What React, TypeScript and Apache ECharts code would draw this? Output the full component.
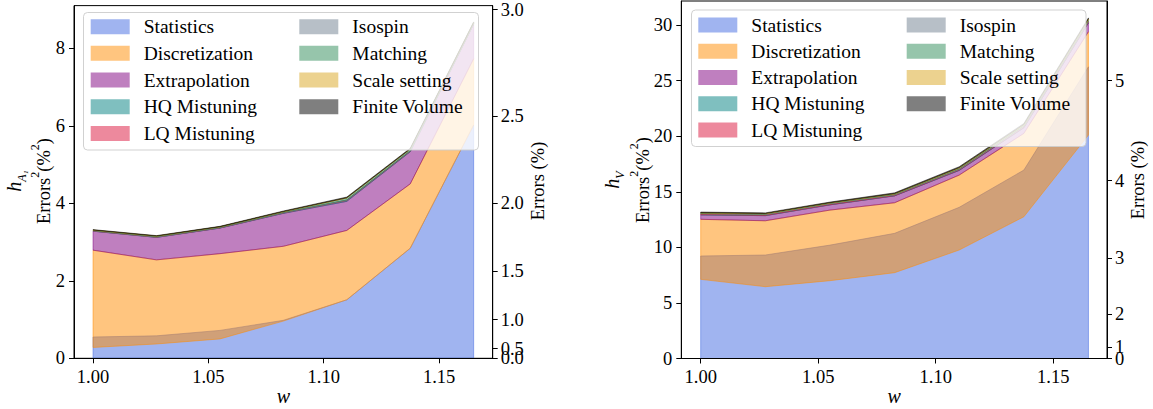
import React, { useEffect, useRef } from "react";
import * as echarts from "echarts";

// ---------------- data (errors squared, in %^2) ----------------
const W_POINTS = [1.0, 1.0275, 1.055, 1.0825, 1.11, 1.1375, 1.165];
const X_TICKS = [1.0, 1.05, 1.1, 1.15];

const LAYER_NAMES = [
  "Statistics",
  "Discretization",
  "Extrapolation",
  "HQ Mistuning",
  "LQ Mistuning",
  "Isospin",
  "Matching",
  "Scale setting",
  "Finite Volume",
];
const LAYER_COLORS = [
  "rgba(65,105,225,0.5)",
  "rgba(255,140,0,0.5)",
  "rgba(128,0,128,0.5)",
  "rgba(0,128,128,0.5)",
  "rgba(220,20,60,0.5)",
  "rgba(112,128,144,0.5)",
  "rgba(46,139,87,0.5)",
  "rgba(218,165,32,0.5)",
  "rgba(0,0,0,0.5)",
];

// h_A1 panel
const hA1StatisticsTop = [0.55, 0.58, 0.72, 0.98, 1.51, 2.84, 6.02];
const hA1DiscretizationLow = [0.28, 0.37, 0.5, 0.96, 1.51, 2.84, 6.02];
const hA1DiscretizationTop = [2.79, 2.54, 2.7, 2.89, 3.3, 4.5, 7.73];
const hA1Extrapolation = [0.49, 0.58, 0.66, 0.85, 0.75, 0.83, 0.89];
const hA1HQMistuning = [0.005, 0.005, 0.005, 0.01, 0.02, 0.01, 0.01];
const hA1LQMistuning = [0.005, 0.005, 0.005, 0.005, 0.01, 0.01, 0.005];
const hA1Isospin = [0.005, 0.005, 0.005, 0.005, 0.005, 0.005, 0.005];
const hA1Matching = [0.01, 0.015, 0.015, 0.02, 0.05, 0.04, 0.02];
const hA1ScaleSetting = [0.005, 0.005, 0.005, 0.005, 0.005, 0.005, 0.005];
const hA1FiniteVolume = [0.01, 0.01, 0.01, 0.015, 0.02, 0.02, 0.015];
const hA1LeftTicks = [0, 2, 4, 6, 8];
const hA1RightTicks = [0, 0.5, 1.0, 1.5, 2.0, 2.5, 3.0];

// h_V panel
const hVStatisticsTop = [9.22, 9.31, 10.2, 11.26, 13.6, 16.95, 26.24];
const hVDiscretizationLow = [7.12, 6.46, 7.0, 7.72, 9.76, 12.75, 20.1];
const hVDiscretizationTop = [12.52, 12.39, 13.35, 14.01, 16.5, 20.25, 29.4];
const hVExtrapolation = [0.4, 0.46, 0.47, 0.62, 0.42, 0.5, 0.8];
const hVHQMistuning = [0.02, 0.02, 0.02, 0.02, 0.03, 0.03, 0.03];
const hVLQMistuning = [0.08, 0.08, 0.08, 0.07, 0.08, 0.1, 0.1];
const hVIsospin = [0.02, 0.02, 0.02, 0.02, 0.02, 0.03, 0.03];
const hVMatching = [0.04, 0.04, 0.04, 0.05, 0.07, 0.08, 0.1];
const hVScaleSetting = [0.03, 0.03, 0.03, 0.04, 0.05, 0.05, 0.08];
const hVFiniteVolume = [0.06, 0.06, 0.06, 0.07, 0.08, 0.1, 0.1];
const hVLeftTicks = [0, 5, 10, 15, 20, 25, 30];
const hVRightTicks = [0, 1, 2, 3, 4, 5];

const FONT = "'Liberation Serif', 'Times New Roman', serif";

type Panel = {
  grid: { left: number; top: number; width: number; height: number };
  xMin: number;
  xMax: number;
  yMax: number;
  leftTicks: number[];
  rightTicks: number[];
  rightDecimals: number;
  statTop: number[];
  discLow: number[];
  discTop: number[];
  rest: number[][];
  legendCols: number[];
  legendTop: number;
  legendGap: number;
  box: { x: number; y: number; width: number; height: number };
  sub: string;
  nameX: number[];
  rightNameX: number;
  nameY: number;
};

const PANELS: Panel[] = [
  {
    grid: { left: 74, top: 3, width: 418.7, height: 355.3 },
    xMin: 0.99175,
    xMax: 1.17325,
    yMax: 9.1,
    leftTicks: hA1LeftTicks,
    rightTicks: hA1RightTicks,
    rightDecimals: 1,
    statTop: hA1StatisticsTop,
    discLow: hA1DiscretizationLow,
    discTop: hA1DiscretizationTop,
    rest: [hA1Extrapolation, hA1HQMistuning, hA1LQMistuning, hA1Isospin, hA1Matching, hA1ScaleSetting, hA1FiniteVolume],
    legendCols: [90.7, 299.3],
    legendTop: 16.7,
    legendGap: 6.67,
    box: { x: 83.5, y: 12.5, width: 395, height: 137.5 },
    sub: "A₁",
    nameX: [16, 41],
    rightNameX: 538,
    nameY: 181,
  },
  {
    grid: { left: 681.3, top: 1, width: 425.7, height: 357.5 },
    xMin: 0.99175,
    xMax: 1.17289,
    yMax: 32.16,
    leftTicks: hVLeftTicks,
    rightTicks: hVRightTicks,
    rightDecimals: 0,
    statTop: hVStatisticsTop,
    discLow: hVDiscretizationLow,
    discTop: hVDiscretizationTop,
    rest: [hVExtrapolation, hVHQMistuning, hVLQMistuning, hVIsospin, hVMatching, hVScaleSetting, hVFiniteVolume],
    legendCols: [698.3, 906.7],
    legendTop: 15,
    legendGap: 6.25,
    box: { x: 691.5, y: 10, width: 394.5, height: 136.5 },
    sub: "V",
    nameX: [614, 640],
    rightNameX: 1138,
    nameY: 180,
  },
];

// one filled band (lower..upper) per layer, drawn as a single polygon through the axes' scales
function bandRenderItem(params: any, api: any) {
  if (params.dataIndexInside !== 0) return null;
  const n = params.dataInsideLength;
  const top: number[][] = [];
  const bottom: number[][] = [];
  for (let i = 0; i < n; i++) {
    const w = api.value(0, i);
    top.push(api.coord([w, api.value(2, i)]));
    bottom.push(api.coord([w, api.value(1, i)]));
  }
  const color = api.visual("color");
  return {
    type: "polygon",
    shape: { points: top.concat(bottom.reverse()) },
    style: { fill: color, stroke: color, lineWidth: 1 },
    silent: true,
  };
}

function buildOption() {
  const grid: any[] = [];
  const xAxis: any[] = [];
  const yAxis: any[] = [];
  const series: any[] = [];
  const legend: any[] = [];
  const graphic: any[] = [];

  const axisCommon = {
    axisLine: { show: true, onZero: false, lineStyle: { color: "#000", width: 1 } },
    axisTick: { show: true, length: 5, lineStyle: { color: "#000", width: 1 } },
    splitLine: { show: false },
    z: 5,
  };
  const labelCommon = {
    color: "#000",
    fontFamily: FONT,
    fontSize: 18.5,
    showMinLabel: true,
    showMaxLabel: true,
    hideOverlap: false,
  };

  PANELS.forEach((p, pi) => {
    grid.push({ ...p.grid, show: true, borderColor: "#000", borderWidth: 1, backgroundColor: "transparent" });
    xAxis.push({
      type: "value",
      gridIndex: pi,
      min: p.xMin,
      max: p.xMax,
      ...axisCommon,
      axisTick: { ...axisCommon.axisTick, customValues: X_TICKS },
      axisLabel: { ...labelCommon, margin: 9, customValues: X_TICKS, formatter: (v: number) => v.toFixed(2) },
    });
    yAxis.push({
      type: "value",
      gridIndex: pi,
      position: "left",
      min: 0,
      max: p.yMax,
      ...axisCommon,
      axisTick: { ...axisCommon.axisTick, customValues: p.leftTicks },
      axisLabel: { ...labelCommon, margin: 9, customValues: p.leftTicks, formatter: (v: number) => String(Math.round(v)) },
    });
    const rightPos = p.rightTicks.map((t) => t * t);
    const fmt = (v: number) => Math.sqrt(v).toFixed(p.rightDecimals);
    // right axis: ticks at squared positions; labels for all but the first
    yAxis.push({
      type: "value",
      gridIndex: pi,
      position: "right",
      min: 0,
      max: p.yMax,
      ...axisCommon,
      axisTick: { ...axisCommon.axisTick, customValues: rightPos },
      axisLabel: { ...labelCommon, margin: 8, customValues: rightPos.slice(1), formatter: fmt },
    });
    // right axis: the first label alone (it overlaps the next one, as in the original)
    yAxis.push({
      type: "value",
      gridIndex: pi,
      position: "right",
      min: 0,
      max: p.yMax,
      axisLine: { show: false },
      axisTick: { show: false },
      splitLine: { show: false },
      axisLabel: { ...labelCommon, margin: 8, customValues: rightPos.slice(0, 1), formatter: fmt },
      z: 5,
    });

    // layers: lower / upper boundaries
    const layers: { lower: number[]; upper: number[] }[] = [];
    layers.push({ lower: W_POINTS.map(() => 0), upper: p.statTop });
    layers.push({ lower: p.discLow, upper: p.discTop });
    let cum = p.discTop.slice();
    p.rest.forEach((vals) => {
      const upper = cum.map((c, i) => c + vals[i]);
      layers.push({ lower: cum, upper });
      cum = upper;
    });

    layers.forEach((l, k) => {
      const color = LAYER_COLORS[k];
      series.push({
        type: "custom",
        name: LAYER_NAMES[k],
        xAxisIndex: pi,
        yAxisIndex: pi * 3,
        renderItem: bandRenderItem,
        data: W_POINTS.map((w, i) => [w, l.lower[i], l.upper[i]]),
        encode: { x: 0, y: [1, 2] },
        itemStyle: { color },
        silent: true,
        clip: false,
        z: 2,
      });
    });

    // legend (two columns)
    const cols = [LAYER_NAMES.slice(0, 5), LAYER_NAMES.slice(5)];
    cols.forEach((names, ci) => {
      legend.push({
        orient: "vertical",
        left: p.legendCols[ci],
        top: p.legendTop,
        padding: 0,
        itemWidth: 39,
        itemHeight: 15,
        itemGap: p.legendGap,
        icon: "rect",
        selectedMode: false,
        data: names,
        z: 6,
        itemStyle: { borderWidth: 0 },
        textStyle: { color: "#000", fontFamily: FONT, fontSize: 19.5, lineHeight: 20, padding: [0, 0, 0, 9] },
      });
    });

    graphic.push({
      type: "rect",
      z: 4,
      shape: { ...p.box, r: 4 },
      style: { fill: "rgba(255,255,255,0.8)", stroke: "rgba(204,204,204,0.9)", lineWidth: 1 },
      silent: true,
    });

    // y axis names
    graphic.push({
      type: "text",
      x: p.nameX[0],
      y: p.nameY,
      rotation: Math.PI / 2,
      z: 6,
      style: {
        text: `{i|h}{s|${p.sub}}`,
        align: "center",
        verticalAlign: "middle",
        textAlign: "center",
        textVerticalAlign: "middle",
        fill: "#000",
        rich: {
          i: { fontFamily: FONT, fontSize: 20, fontStyle: "italic", lineHeight: 24, verticalAlign: "top", fill: "#000" },
          s: { fontFamily: FONT, fontSize: 12, fontStyle: "italic", lineHeight: 9, verticalAlign: "bottom", fill: "#000" },
        },
      },
    });
    graphic.push({
      type: "text",
      x: p.nameX[1],
      y: p.nameY,
      rotation: Math.PI / 2,
      z: 6,
      style: {
        text: "{n|Errors}{p|2}{n|(%}{p|2}{n|)}",
        align: "center",
        verticalAlign: "middle",
        textAlign: "center",
        textVerticalAlign: "middle",
        fill: "#000",
        rich: {
          n: { fontFamily: FONT, fontSize: 18.5, lineHeight: 24, verticalAlign: "bottom", fill: "#000" },
          p: { fontFamily: FONT, fontSize: 12, lineHeight: 12, verticalAlign: "top", fill: "#000" },
        },
      },
    });
    graphic.push({
      type: "text",
      x: p.rightNameX,
      y: p.nameY,
      rotation: Math.PI / 2,
      z: 6,
      style: {
        text: "Errors (%)",
        font: `18.5px ${FONT}`,
        align: "center",
        verticalAlign: "middle",
        textAlign: "center",
        textVerticalAlign: "middle",
        fill: "#000",
      },
    });
    graphic.push({
      type: "text",
      x: p.grid.left + p.grid.width / 2,
      y: 396,
      z: 6,
      style: {
        text: "w",
        font: `italic 20px ${FONT}`,
        align: "center",
        verticalAlign: "middle",
        textAlign: "center",
        textVerticalAlign: "middle",
        fill: "#000",
      },
    });
  });

  return { animation: false, backgroundColor: "#fff", grid, xAxis, yAxis, series, legend, graphic };
}

export default function App() {
  const ref = useRef<HTMLDivElement>(null);
  useEffect(() => {
    if (!ref.current) return;
    const chart = echarts.init(ref.current, undefined, { renderer: "svg" });
    chart.setOption(buildOption() as any);
    return () => chart.dispose();
  }, []);
  return (
    <div
      ref={ref}
      style={{ position: "absolute", left: 0, top: 0, width: 1153, height: 409, background: "#fff" }}
    />
  );
}
